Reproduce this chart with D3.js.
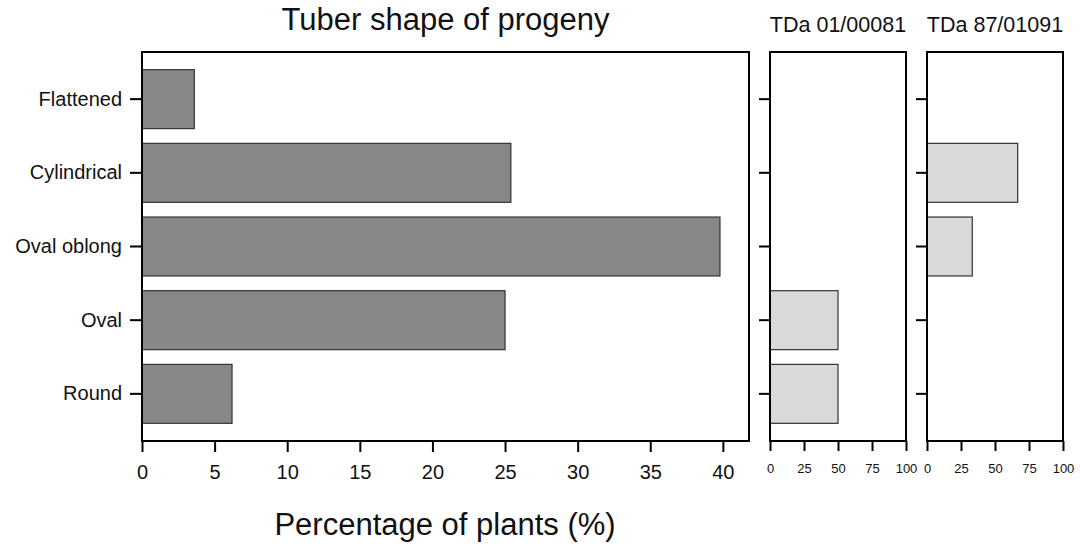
<!DOCTYPE html>
<html>
<head>
  <meta charset="utf-8">
  <title>Tuber shape of progeny</title>
  <script src="https://cdn.jsdelivr.net/npm/d3@7"></script>
  <style>
    body { margin: 0; background: #fff; }
    text { font-family: "Liberation Sans", Arial, sans-serif; fill: #111; }
    .frame { fill: none; stroke: #000; stroke-width: 2; }
    .axis path { display: none; }
    .axis line { stroke: #000; stroke-width: 2; }
  </style>
</head>
<body>
<script>
  // data
  var categories = ["Flattened", "Cylindrical", "Oval oblong", "Oval", "Round"];
  var progeny = [3.6, 25.4, 39.8, 25.0, 6.2];
  var tda01 = [0, 0, 0, 50, 50];
  var tda87 = [0, 66.7, 33.3, 0, 0];
  var mainTicks = [0, 5, 10, 15, 20, 25, 30, 35, 40];
  var smallTicks = [0, 25, 50, 75, 100];

  var width = 1080, height = 548;
  var plotTop = 52, plotBottom = 441;

  var svg = d3.select("body").append("svg")
    .attr("width", width)
    .attr("height", height);

  var yScale = d3.scaleBand()
    .domain(categories)
    .range([plotTop, plotBottom])
    .paddingInner(0.2)
    .paddingOuter(0.24);

  // one panel = bars + frame + axes
  function panel(values, x0, x1, domainMax, ticks, opt) {
    var xScale = d3.scaleLinear().domain([0, domainMax]).range([x0, x1]);
    var g = svg.append("g");

    var rows = categories.map(function(c, i) {
      return { cat: c, value: values[i] };
    }).filter(function(d) { return d.value > 0; });

    g.selectAll("rect.bar")
      .data(rows)
      .enter()
      .append("rect")
      .attr("class", "bar")
      .attr("x", xScale(0))
      .attr("y", function(d) { return yScale(d.cat); })
      .attr("width", function(d) { return xScale(d.value) - xScale(0); })
      .attr("height", yScale.bandwidth())
      .attr("fill", opt.fill)
      .attr("stroke", "#333")
      .attr("stroke-width", 1.2);

    g.append("rect")
      .attr("class", "frame")
      .attr("x", x0)
      .attr("y", plotTop)
      .attr("width", x1 - x0)
      .attr("height", plotBottom - plotTop);

    var xAxis = d3.axisBottom(xScale)
      .tickValues(ticks)
      .tickSize(opt.xTick)
      .tickPadding(opt.xPad)
      .tickFormat(d3.format("d"));

    var gx = g.append("g")
      .attr("class", "axis")
      .attr("transform", "translate(0," + plotBottom + ")")
      .call(xAxis);
    gx.selectAll("text").style("font-size", opt.xFont + "px");

    var yAxis = d3.axisLeft(yScale)
      .tickSize(opt.yTick)
      .tickPadding(8);
    if (!opt.yLabels) yAxis.tickFormat("");

    var gy = g.append("g")
      .attr("class", "axis")
      .attr("transform", "translate(" + x0 + ",0)")
      .call(yAxis);
    gy.selectAll("text").style("font-size", "20px");

    if (opt.title) {
      g.append("text")
        .attr("x", (x0 + x1) / 2)
        .attr("y", opt.titleY)
        .attr("text-anchor", "middle")
        .style("font-size", opt.titleSize + "px")
        .text(opt.title);
    }
    return xScale;
  }

  panel(progeny, 142, 749, 41.8, mainTicks, {
    fill: "#878787", xTick: 11, xPad: 13, xFont: 20,
    yTick: 12, yLabels: true,
    title: "Tuber shape of progeny", titleY: 30, titleSize: 31
  });

  panel(tda01, 770, 906, 100, smallTicks, {
    fill: "#d9d9d9", xTick: 10, xPad: 13, xFont: 13,
    yTick: 11, yLabels: false,
    title: "TDa 01/00081", titleY: 32, titleSize: 21.5
  });

  panel(tda87, 927, 1063, 100, smallTicks, {
    fill: "#d9d9d9", xTick: 10, xPad: 13, xFont: 13,
    yTick: 11, yLabels: false,
    title: "TDa 87/01091", titleY: 32, titleSize: 21.5
  });

  // x axis title
  svg.append("text")
    .attr("x", 445)
    .attr("y", 535)
    .attr("text-anchor", "middle")
    .style("font-size", "31px")
    .text("Percentage of plants (%)");
</script>
</body>
</html>
